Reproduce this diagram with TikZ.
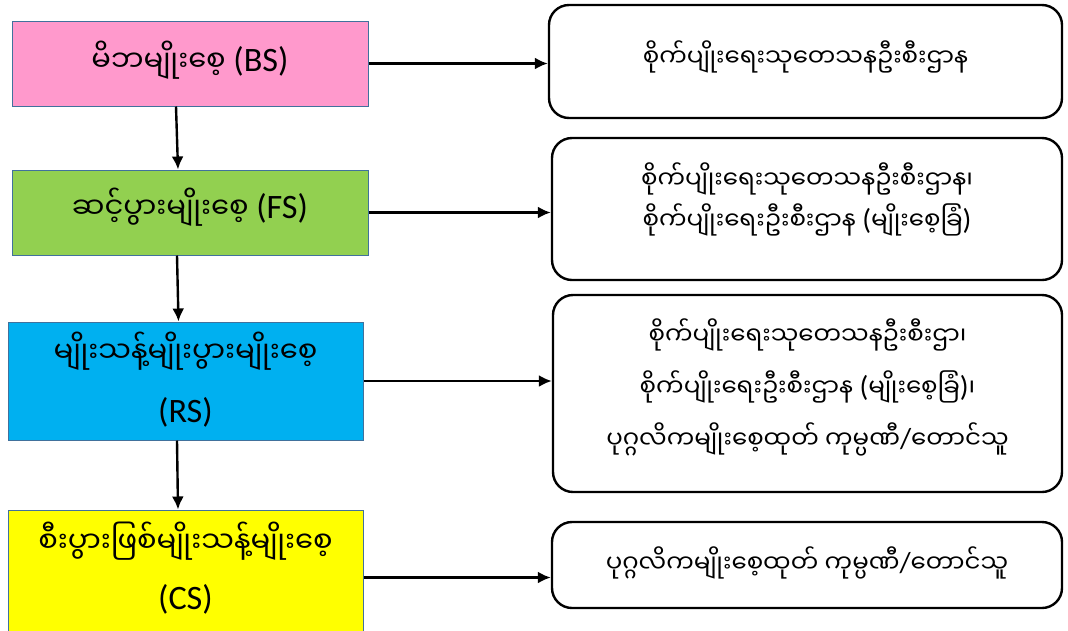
\documentclass[tikz,border=0pt]{standalone}
\usepackage{fontspec}
\setmainfont{Carlito}[Scale=1.18]
\newfontfamily\mm[Script=Myanmar]{Noto Sans Myanmar UI}
\usetikzlibrary{arrows.meta}
\definecolor{pinkf}{HTML}{FF99CC}
\definecolor{greenf}{HTML}{92D050}
\definecolor{bluef}{HTML}{00B0F0}
\definecolor{yellowf}{HTML}{FFFF00}
\definecolor{edgeb}{HTML}{41719C}
\tikzset{
  leftbox/.style={draw=edgeb, line width=1pt, rectangle, inner sep=0pt},
  rightbox/.style={draw=black, line width=2.4pt, rounded corners=20pt, rectangle, inner sep=0pt, fill=white},
  txt/.style={align=center, inner sep=0pt},
  ltxt/.style={txt, font=\fontsize{29}{33}\selectfont},
  rtxt/.style={txt, font=\fontsize{24.5}{30}\selectfont},
  arr/.style={line width=2.4pt, -{Latex[length=13pt,width=12pt]}},
}
\begin{document}
\begin{tikzpicture}[x=1pt,y=-1pt]
\useasboundingbox (0,0) rectangle (1068,630);
\clip (0,0) rectangle (1068,630);
% left column
\node[leftbox, fill=pinkf, minimum width=356pt, minimum height=85pt] (bs) at (190,63.5) {};
\node[leftbox, fill=greenf, minimum width=356pt, minimum height=85pt] (fs) at (190,212.5) {};
\node[leftbox, fill=bluef, minimum width=355pt, minimum height=118pt] (rs) at (185.5,381) {};
\node[leftbox, fill=yellowf, minimum width=355pt, minimum height=125pt] (cs) at (185.5,572.5) {};
\node[ltxt] (bst) at ([yshift=3pt]bs.center) {{\mm မိဘမျိုးစေ့} (BS)};
\node[ltxt] (fst) at ([yshift=5pt]fs.center) {{\mm ဆင့်ပွားမျိုးစေ့} (FS)};
\node[ltxt, font=\fontsize{29}{60}\selectfont] (rst) at ([yshift=1pt]rs.center) {{\mm မျိုးသန့်မျိုးပွားမျိုးစေ့}\\(RS)};
\node[ltxt, font=\fontsize{29}{57}\selectfont] (cst) at ([yshift=4pt]cs.center) {{\mm စီးပွားဖြစ်မျိုးသန့်မျိုးစေ့}\\(CS)};
% right column
\node[rightbox, minimum width=513pt, minimum height=113pt] (r1) at (805.5,61.5) {};
\node[rightbox, minimum width=510pt, minimum height=142pt] (r2) at (807,209) {};
\node[rightbox, minimum width=509pt, minimum height=197pt] (r3) at (807.5,393.5) {};
\node[rightbox, minimum width=510pt, minimum height=86pt] (r4) at (807,565) {};
\node[rtxt] (r1t) at ([yshift=5pt]r1.center) {{\mm စိုက်ပျိုးရေးသုတေသနဦးစီးဌာန}};
\node[rtxt, font=\fontsize{24.5}{41}\selectfont] (r2t) at ([yshift=10pt]r2.center) {{\mm စိုက်ပျိုးရေးသုတေသနဦးစီးဌာန၊}\\{\mm စိုက်ပျိုးရေးဦးစီးဌာန} ({\mm မျိုးစေ့ခြံ})};
\node[rtxt, font=\fontsize{24.5}{52}\selectfont] (r3t) at ([yshift=6pt]r3.center) {{\mm စိုက်ပျိုးရေးသုတေသနဦးစီးဌာ၊}\\{\mm စိုက်ပျိုးရေးဦးစီးဌာန} ({\mm မျိုးစေ့ခြံ}){\mm ၊}\\{\mm ပုဂ္ဂလိကမျိုးစေ့ထုတ် ကုမ္ပဏီ}/{\mm တောင်သူ}};
\node[rtxt] (r4t) at ([yshift=2pt]r4.center) {{\mm ပုဂ္ဂလိကမျိုးစေ့ထုတ် ကုမ္ပဏီ}/{\mm တောင်သူ}};
% horizontal arrows
\draw[arr] (bs.east) -- (bs.east -| r1.west);
\draw[arr] (fs.east) -- (fs.east -| r2.west);
\draw[arr] (rs.east) -- (rs.east -| r3.west);
\draw[arr] ([yshift=-5pt]cs.east) -- ([yshift=-5pt]cs.east -| r4.west);
% vertical arrows
\draw[arr] ([xshift=-14pt]bs.south) -- ([xshift=-12pt]fs.north);
\draw[arr] ([xshift=-13pt]fs.south) -- ([xshift=-7pt]rs.north);
\draw[arr] ([xshift=-8.5pt]rs.south) -- ([xshift=-7.5pt]cs.north);
\end{tikzpicture}
\end{document}
